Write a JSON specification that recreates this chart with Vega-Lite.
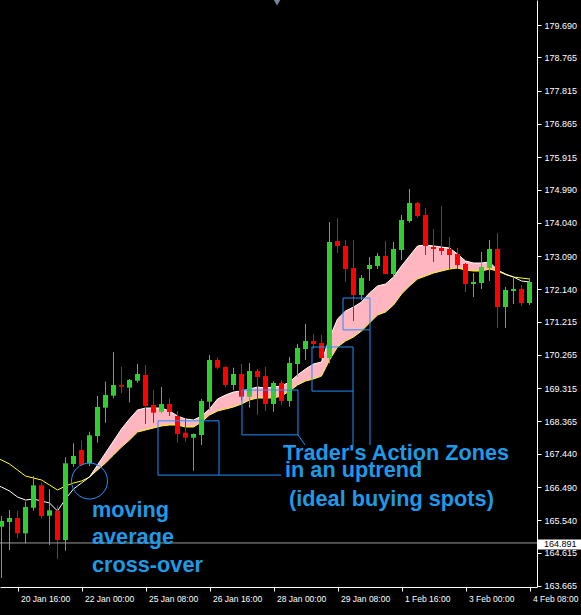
{
  "$schema": "https://vega.github.io/schema/vega-lite/v6.json",
  "width": 537,
  "height": 587,
  "autosize": {"type": "none"},
  "padding": {"left": 0, "top": 0, "right": 44, "bottom": 28},
  "background": "#000000",
  "config": {
    "view": {"stroke": null},
    "scale": {"continuousPadding": 0},
    "axis": {
      "grid": false,
      "title": null,
      "domainColor": "#ffffff",
      "tickColor": "#ffffff",
      "labelColor": "#ffffff",
      "labelFont": "Liberation Sans",
      "labelFontSize": 9,
      "tickSize": 4,
      "labelOverlap": false,
      "labelFlush": false,
      "labelBound": false
    }
  },
  "datasets": {
    "candles": [
      {"k": 0, "open": 165.356, "high": 165.661, "low": 163.890, "close": 165.519},
      {"k": 1, "open": 165.490, "high": 165.833, "low": 164.690, "close": 165.604},
      {"k": 2, "open": 165.604, "high": 165.813, "low": 165.024, "close": 165.167},
      {"k": 3, "open": 165.167, "high": 166.070, "low": 164.881, "close": 165.918},
      {"k": 4, "open": 165.898, "high": 166.804, "low": 165.813, "close": 166.538},
      {"k": 5, "open": 166.538, "high": 166.613, "low": 165.596, "close": 165.661},
      {"k": 6, "open": 165.670, "high": 166.424, "low": 164.833, "close": 165.824},
      {"k": 7, "open": 165.813, "high": 165.956, "low": 164.433, "close": 164.976},
      {"k": 8, "open": 164.976, "high": 167.338, "low": 164.670, "close": 167.167},
      {"k": 9, "open": 167.147, "high": 167.738, "low": 167.070, "close": 167.376},
      {"k": 10, "open": 167.547, "high": 167.813, "low": 167.090, "close": 167.118},
      {"k": 11, "open": 167.167, "high": 168.070, "low": 167.090, "close": 167.967},
      {"k": 12, "open": 167.947, "high": 169.090, "low": 167.756, "close": 168.776},
      {"k": 13, "open": 168.756, "high": 169.499, "low": 168.327, "close": 169.119},
      {"k": 14, "open": 169.099, "high": 170.347, "low": 169.024, "close": 169.404},
      {"k": 15, "open": 169.404, "high": 169.927, "low": 169.167, "close": 169.356},
      {"k": 16, "open": 169.327, "high": 169.576, "low": 168.910, "close": 169.547},
      {"k": 17, "open": 169.527, "high": 170.004, "low": 169.470, "close": 169.719},
      {"k": 18, "open": 169.690, "high": 169.976, "low": 168.290, "close": 168.804},
      {"k": 19, "open": 168.833, "high": 169.261, "low": 168.327, "close": 168.613},
      {"k": 20, "open": 168.641, "high": 169.347, "low": 168.596, "close": 168.861},
      {"k": 21, "open": 168.861, "high": 169.024, "low": 168.519, "close": 168.633},
      {"k": 22, "open": 168.519, "high": 168.661, "low": 167.756, "close": 168.004},
      {"k": 23, "open": 168.041, "high": 168.453, "low": 167.784, "close": 167.899},
      {"k": 24, "open": 167.899, "high": 168.020, "low": 166.956, "close": 168.004},
      {"k": 25, "open": 167.976, "high": 169.004, "low": 167.690, "close": 168.947},
      {"k": 26, "open": 168.927, "high": 170.261, "low": 168.690, "close": 170.118},
      {"k": 27, "open": 170.118, "high": 170.196, "low": 169.861, "close": 169.899},
      {"k": 28, "open": 169.919, "high": 169.947, "low": 169.338, "close": 169.404},
      {"k": 29, "open": 169.404, "high": 169.899, "low": 169.261, "close": 169.719},
      {"k": 30, "open": 169.719, "high": 170.004, "low": 168.956, "close": 169.070},
      {"k": 31, "open": 169.070, "high": 170.033, "low": 168.756, "close": 169.804},
      {"k": 32, "open": 169.804, "high": 169.861, "low": 168.547, "close": 169.633},
      {"k": 33, "open": 169.661, "high": 169.919, "low": 168.661, "close": 168.861},
      {"k": 34, "open": 168.861, "high": 169.510, "low": 168.641, "close": 169.461},
      {"k": 35, "open": 169.461, "high": 169.547, "low": 168.833, "close": 168.947},
      {"k": 36, "open": 168.947, "high": 170.204, "low": 168.784, "close": 170.033},
      {"k": 37, "open": 170.004, "high": 170.576, "low": 169.641, "close": 170.461},
      {"k": 38, "open": 170.433, "high": 171.147, "low": 170.118, "close": 170.661},
      {"k": 39, "open": 170.661, "high": 170.861, "low": 170.433, "close": 170.576},
      {"k": 40, "open": 170.604, "high": 170.833, "low": 170.118, "close": 170.176},
      {"k": 41, "open": 170.176, "high": 174.061, "low": 170.024, "close": 173.490},
      {"k": 42, "open": 173.519, "high": 174.176, "low": 173.176, "close": 173.376},
      {"k": 43, "open": 173.376, "high": 173.547, "low": 172.347, "close": 172.718},
      {"k": 44, "open": 172.747, "high": 173.547, "low": 171.233, "close": 171.976},
      {"k": 45, "open": 171.976, "high": 172.547, "low": 171.833, "close": 172.461},
      {"k": 46, "open": 172.718, "high": 173.061, "low": 172.376, "close": 172.833},
      {"k": 47, "open": 172.804, "high": 173.176, "low": 172.718, "close": 173.090},
      {"k": 48, "open": 173.090, "high": 173.519, "low": 172.570, "close": 172.576},
      {"k": 49, "open": 172.576, "high": 173.490, "low": 172.490, "close": 173.290},
      {"k": 50, "open": 173.261, "high": 174.261, "low": 172.976, "close": 174.119},
      {"k": 51, "open": 174.090, "high": 175.004, "low": 174.041, "close": 174.604},
      {"k": 52, "open": 174.604, "high": 174.641, "low": 174.176, "close": 174.233},
      {"k": 53, "open": 174.261, "high": 174.461, "low": 173.119, "close": 173.376},
      {"k": 54, "open": 173.347, "high": 173.861, "low": 172.918, "close": 173.290},
      {"k": 55, "open": 173.319, "high": 174.519, "low": 173.119, "close": 173.233},
      {"k": 56, "open": 173.290, "high": 173.633, "low": 172.718, "close": 173.119},
      {"k": 57, "open": 173.147, "high": 173.319, "low": 172.718, "close": 172.833},
      {"k": 58, "open": 172.861, "high": 172.890, "low": 172.061, "close": 172.290},
      {"k": 59, "open": 172.290, "high": 172.604, "low": 171.918, "close": 172.347},
      {"k": 60, "open": 172.318, "high": 173.204, "low": 172.147, "close": 172.776},
      {"k": 61, "open": 172.747, "high": 173.547, "low": 172.376, "close": 173.290},
      {"k": 62, "open": 173.290, "high": 173.747, "low": 171.033, "close": 171.633},
      {"k": 63, "open": 171.633, "high": 172.204, "low": 171.033, "close": 172.118},
      {"k": 64, "open": 172.090, "high": 172.490, "low": 171.718, "close": 172.147},
      {"k": 65, "open": 172.147, "high": 172.261, "low": 171.661, "close": 171.747},
      {"k": 66, "open": 171.747, "high": 172.461, "low": 171.690, "close": 172.347}
    ],
    "ma": [
      {"k": -1, "fast": 166.576, "slow": 167.347},
      {"k": 0, "fast": 166.490, "slow": 167.261},
      {"k": 1, "fast": 166.376, "slow": 167.147},
      {"k": 2, "fast": 166.204, "slow": 166.976},
      {"k": 3, "fast": 166.118, "slow": 166.804},
      {"k": 4, "fast": 166.147, "slow": 166.747},
      {"k": 5, "fast": 166.090, "slow": 166.690},
      {"k": 6, "fast": 166.033, "slow": 166.547},
      {"k": 7, "fast": 165.804, "slow": 166.404},
      {"k": 8, "fast": 166.147, "slow": 166.518},
      {"k": 9, "fast": 166.433, "slow": 166.604},
      {"k": 10, "fast": 166.604, "slow": 166.661},
      {"k": 11, "fast": 166.776, "slow": 166.776},
      {"k": 12, "fast": 167.118, "slow": 166.976},
      {"k": 13, "fast": 167.461, "slow": 167.176},
      {"k": 14, "fast": 167.804, "slow": 167.404},
      {"k": 15, "fast": 168.147, "slow": 167.633},
      {"k": 16, "fast": 168.433, "slow": 167.833},
      {"k": 17, "fast": 168.690, "slow": 168.061},
      {"k": 18, "fast": 168.747, "slow": 168.118},
      {"k": 19, "fast": 168.747, "slow": 168.176},
      {"k": 20, "fast": 168.747, "slow": 168.233},
      {"k": 21, "fast": 168.661, "slow": 168.261},
      {"k": 22, "fast": 168.518, "slow": 168.261},
      {"k": 23, "fast": 168.433, "slow": 168.204},
      {"k": 24, "fast": 168.404, "slow": 168.204},
      {"k": 25, "fast": 168.518, "slow": 168.347},
      {"k": 26, "fast": 168.718, "slow": 168.547},
      {"k": 27, "fast": 169.004, "slow": 168.661},
      {"k": 28, "fast": 169.118, "slow": 168.718},
      {"k": 29, "fast": 169.204, "slow": 168.776},
      {"k": 30, "fast": 169.233, "slow": 168.861},
      {"k": 31, "fast": 169.290, "slow": 168.976},
      {"k": 32, "fast": 169.347, "slow": 169.033},
      {"k": 33, "fast": 169.318, "slow": 169.033},
      {"k": 34, "fast": 169.347, "slow": 169.033},
      {"k": 35, "fast": 169.376, "slow": 169.090},
      {"k": 36, "fast": 169.490, "slow": 169.233},
      {"k": 37, "fast": 169.690, "slow": 169.404},
      {"k": 38, "fast": 169.861, "slow": 169.518},
      {"k": 39, "fast": 170.004, "slow": 169.576},
      {"k": 40, "fast": 170.061, "slow": 169.661},
      {"k": 41, "fast": 170.747, "slow": 170.118},
      {"k": 42, "fast": 171.290, "slow": 170.490},
      {"k": 43, "fast": 171.518, "slow": 170.661},
      {"k": 44, "fast": 171.633, "slow": 170.776},
      {"k": 45, "fast": 171.776, "slow": 170.947},
      {"k": 46, "fast": 172.033, "slow": 171.175},
      {"k": 47, "fast": 172.233, "slow": 171.404},
      {"k": 48, "fast": 172.290, "slow": 171.490},
      {"k": 49, "fast": 172.490, "slow": 171.690},
      {"k": 50, "fast": 172.804, "slow": 172.004},
      {"k": 51, "fast": 173.090, "slow": 172.233},
      {"k": 52, "fast": 173.376, "slow": 172.433},
      {"k": 53, "fast": 173.404, "slow": 172.518},
      {"k": 54, "fast": 173.376, "slow": 172.604},
      {"k": 55, "fast": 173.347, "slow": 172.661},
      {"k": 56, "fast": 173.318, "slow": 172.718},
      {"k": 57, "fast": 173.147, "slow": 172.747},
      {"k": 58, "fast": 172.947, "slow": 172.690},
      {"k": 59, "fast": 172.890, "slow": 172.661},
      {"k": 60, "fast": 172.890, "slow": 172.661},
      {"k": 61, "fast": 172.918, "slow": 172.718},
      {"k": 62, "fast": 172.690, "slow": 172.661},
      {"k": 63, "fast": 172.576, "slow": 172.561},
      {"k": 64, "fast": 172.490, "slow": 172.490},
      {"k": 65, "fast": 172.376, "slow": 172.461},
      {"k": 66, "fast": 172.347, "slow": 172.433}
    ],
    "zones": [
      {"k1": 19.56, "k2": 27.19, "p1": 168.38, "p2": 166.83},
      {"k1": 30.06, "k2": 37.06, "p1": 169.26, "p2": 167.98},
      {"k1": 38.81, "k2": 43.94, "p1": 170.49, "p2": 169.23},
      {"k1": 42.69, "k2": 46.06, "p1": 171.89, "p2": 170.98}
    ],
    "leaders": [
      {"k1": 27.19, "k2": 34.94, "p1": 166.83, "p2": 166.83},
      {"k1": 37.06, "k2": 37.94, "p1": 167.98, "p2": 167.69},
      {"k1": 43.94, "k2": 43.94, "p1": 169.23, "p2": 167.69},
      {"k1": 46.06, "k2": 46.06, "p1": 170.98, "p2": 167.69}
    ],
    "ring": [{"k": 11.0, "price": 166.661}],
    "notes": [
      {"k": 11.31, "price": 165.624, "text": "moving"},
      {"k": 11.31, "price": 164.861, "text": "average"},
      {"k": 11.31, "price": 164.070, "text": "cross-over"},
      {"k": 35.19, "price": 167.261, "text": "Trader's Action Zones"},
      {"k": 35.44, "price": 166.784, "text": "in an uptrend"},
      {"k": 35.94, "price": 165.947, "text": "(ideal buying spots)"}
    ],
    "bid": [{"k1": 67.05, "k2": 72.6, "klabel": 67.81, "price": 164.891}],
    "shift": [{"k": 34.44, "price": 180.33}]
  },
  "layer": [
    {
      "data": {"name": "ma"},
      "transform": [{"filter": "datum.k >= 11 && datum.k <= 64"}],
      "mark": {"type": "area", "color": "#FFB6C1", "opacity": 1},
      "encoding": {
        "x": {"field": "k", "type": "quantitative", "scale": {"domain": [-0.1875, 66.9375], "nice": false, "zero": false, "padding": 0},
          "axis": {"values": [-6, 2, 10, 18, 26, 34, 42, 50, 58, 66], "labelAlign": "left", "labelOffset": 3, "labelPadding": 3, "labelFontSize": 8.5, "labelOverlap": false,
            "labelExpr": "['19 Jan 08:00','20 Jan 16:00','22 Jan 00:00','25 Jan 08:00','26 Jan 16:00','28 Jan 00:00','29 Jan 08:00','1 Feb 16:00','3 Feb 00:00','4 Feb 08:00'][(datum.value + 6) / 8]"}},
        "y": {"field": "fast", "type": "quantitative", "scale": {"domain": [163.6329, 180.4043], "nice": false, "zero": false, "padding": 0},
          "axis": {"orient": "right", "labelPadding": 3, "labelBaseline": "middle", "labelOverlap": false,
            "values": [179.690, 178.765, 177.815, 176.865, 175.915, 174.990, 174.040, 173.090, 172.140, 171.215, 170.265, 169.315, 168.365, 167.440, 166.490, 165.540, 164.615, 163.665],
            "labelExpr": "format(datum.value, '.3f')"}},
        "y2": {"field": "slow"}
      }
    },
    {
      "data": {"name": "ma"},
      "mark": {"type": "line", "color": "#FFFF00", "strokeWidth": 1, "clip": true},
      "encoding": {
        "x": {"field": "k", "type": "quantitative", "scale": {"domain": [-0.1875, 66.9375], "nice": false, "zero": false, "padding": 0},
          "axis": {"values": [-6, 2, 10, 18, 26, 34, 42, 50, 58, 66], "labelAlign": "left", "labelOffset": 3, "labelPadding": 3, "labelFontSize": 8.5, "labelOverlap": false,
            "labelExpr": "['19 Jan 08:00','20 Jan 16:00','22 Jan 00:00','25 Jan 08:00','26 Jan 16:00','28 Jan 00:00','29 Jan 08:00','1 Feb 16:00','3 Feb 00:00','4 Feb 08:00'][(datum.value + 6) / 8]"}},
        "y": {"field": "slow", "type": "quantitative", "scale": {"domain": [163.6329, 180.4043], "nice": false, "zero": false, "padding": 0},
          "axis": {"orient": "right", "labelPadding": 3, "labelBaseline": "middle", "labelOverlap": false,
            "values": [179.690, 178.765, 177.815, 176.865, 175.915, 174.990, 174.040, 173.090, 172.140, 171.215, 170.265, 169.315, 168.365, 167.440, 166.490, 165.540, 164.615, 163.665],
            "labelExpr": "format(datum.value, '.3f')"}}
      }
    },
    {
      "data": {"name": "ma"},
      "mark": {"type": "line", "color": "#FFFFFF", "strokeWidth": 1, "clip": true},
      "encoding": {
        "x": {"field": "k", "type": "quantitative", "scale": {"domain": [-0.1875, 66.9375], "nice": false, "zero": false, "padding": 0},
          "axis": {"values": [-6, 2, 10, 18, 26, 34, 42, 50, 58, 66], "labelAlign": "left", "labelOffset": 3, "labelPadding": 3, "labelFontSize": 8.5, "labelOverlap": false,
            "labelExpr": "['19 Jan 08:00','20 Jan 16:00','22 Jan 00:00','25 Jan 08:00','26 Jan 16:00','28 Jan 00:00','29 Jan 08:00','1 Feb 16:00','3 Feb 00:00','4 Feb 08:00'][(datum.value + 6) / 8]"}},
        "y": {"field": "fast", "type": "quantitative", "scale": {"domain": [163.6329, 180.4043], "nice": false, "zero": false, "padding": 0},
          "axis": {"orient": "right", "labelPadding": 3, "labelBaseline": "middle", "labelOverlap": false,
            "values": [179.690, 178.765, 177.815, 176.865, 175.915, 174.990, 174.040, 173.090, 172.140, 171.215, 170.265, 169.315, 168.365, 167.440, 166.490, 165.540, 164.615, 163.665],
            "labelExpr": "format(datum.value, '.3f')"}}
      }
    },
    {
      "data": {"name": "candles"},
      "mark": {"type": "rule", "strokeWidth": 1},
      "encoding": {
        "x": {"field": "k", "type": "quantitative", "scale": {"domain": [-0.1875, 66.9375], "nice": false, "zero": false, "padding": 0},
          "axis": {"values": [-6, 2, 10, 18, 26, 34, 42, 50, 58, 66], "labelAlign": "left", "labelOffset": 3, "labelPadding": 3, "labelFontSize": 8.5, "labelOverlap": false,
            "labelExpr": "['19 Jan 08:00','20 Jan 16:00','22 Jan 00:00','25 Jan 08:00','26 Jan 16:00','28 Jan 00:00','29 Jan 08:00','1 Feb 16:00','3 Feb 00:00','4 Feb 08:00'][(datum.value + 6) / 8]"}},
        "y": {"field": "low", "type": "quantitative", "scale": {"domain": [163.6329, 180.4043], "nice": false, "zero": false, "padding": 0},
          "axis": {"orient": "right", "labelPadding": 3, "labelBaseline": "middle", "labelOverlap": false,
            "values": [179.690, 178.765, 177.815, 176.865, 175.915, 174.990, 174.040, 173.090, 172.140, 171.215, 170.265, 169.315, 168.365, 167.440, 166.490, 165.540, 164.615, 163.665],
            "labelExpr": "format(datum.value, '.3f')"}},
        "y2": {"field": "high"},
        "color": {"condition": {"test": "datum.close >= datum.open", "value": "#32CD32"}, "value": "#FF0000"}
      }
    },
    {
      "data": {"name": "candles"},
      "mark": {"type": "bar", "size": 5, "orient": "vertical"},
      "encoding": {
        "x": {"field": "k", "type": "quantitative", "scale": {"domain": [-0.1875, 66.9375], "nice": false, "zero": false, "padding": 0},
          "axis": {"values": [-6, 2, 10, 18, 26, 34, 42, 50, 58, 66], "labelAlign": "left", "labelOffset": 3, "labelPadding": 3, "labelFontSize": 8.5, "labelOverlap": false,
            "labelExpr": "['19 Jan 08:00','20 Jan 16:00','22 Jan 00:00','25 Jan 08:00','26 Jan 16:00','28 Jan 00:00','29 Jan 08:00','1 Feb 16:00','3 Feb 00:00','4 Feb 08:00'][(datum.value + 6) / 8]"}},
        "y": {"field": "open", "type": "quantitative", "scale": {"domain": [163.6329, 180.4043], "nice": false, "zero": false, "padding": 0},
          "axis": {"orient": "right", "labelPadding": 3, "labelBaseline": "middle", "labelOverlap": false,
            "values": [179.690, 178.765, 177.815, 176.865, 175.915, 174.990, 174.040, 173.090, 172.140, 171.215, 170.265, 169.315, 168.365, 167.440, 166.490, 165.540, 164.615, 163.665],
            "labelExpr": "format(datum.value, '.3f')"}},
        "y2": {"field": "close"},
        "color": {"condition": {"test": "datum.close >= datum.open", "value": "#32CD32"}, "value": "#FF0000"}
      }
    },
    {
      "data": {"name": "bid"},
      "mark": {"type": "rule", "color": "#9a9a9a", "strokeWidth": 1},
      "encoding": {
        "y": {"field": "price", "type": "quantitative", "scale": {"domain": [163.6329, 180.4043], "nice": false, "zero": false, "padding": 0},
          "axis": {"orient": "right", "labelPadding": 3, "labelBaseline": "middle", "labelOverlap": false,
            "values": [179.690, 178.765, 177.815, 176.865, 175.915, 174.990, 174.040, 173.090, 172.140, 171.215, 170.265, 169.315, 168.365, 167.440, 166.490, 165.540, 164.615, 163.665],
            "labelExpr": "format(datum.value, '.3f')"}}
      }
    },
    {
      "data": {"name": "zones"},
      "mark": {"type": "rect", "fill": null, "fillOpacity": 0, "stroke": "#1E90FF", "strokeWidth": 1},
      "encoding": {
        "x": {"field": "k1", "type": "quantitative", "scale": {"domain": [-0.1875, 66.9375], "nice": false, "zero": false, "padding": 0},
          "axis": {"values": [-6, 2, 10, 18, 26, 34, 42, 50, 58, 66], "labelAlign": "left", "labelOffset": 3, "labelPadding": 3, "labelFontSize": 8.5, "labelOverlap": false,
            "labelExpr": "['19 Jan 08:00','20 Jan 16:00','22 Jan 00:00','25 Jan 08:00','26 Jan 16:00','28 Jan 00:00','29 Jan 08:00','1 Feb 16:00','3 Feb 00:00','4 Feb 08:00'][(datum.value + 6) / 8]"}},
        "x2": {"field": "k2"},
        "y": {"field": "p1", "type": "quantitative", "scale": {"domain": [163.6329, 180.4043], "nice": false, "zero": false, "padding": 0},
          "axis": {"orient": "right", "labelPadding": 3, "labelBaseline": "middle", "labelOverlap": false,
            "values": [179.690, 178.765, 177.815, 176.865, 175.915, 174.990, 174.040, 173.090, 172.140, 171.215, 170.265, 169.315, 168.365, 167.440, 166.490, 165.540, 164.615, 163.665],
            "labelExpr": "format(datum.value, '.3f')"}},
        "y2": {"field": "p2"}
      }
    },
    {
      "data": {"name": "leaders"},
      "mark": {"type": "rule", "color": "#1E90FF", "strokeWidth": 1},
      "encoding": {
        "x": {"field": "k1", "type": "quantitative", "scale": {"domain": [-0.1875, 66.9375], "nice": false, "zero": false, "padding": 0},
          "axis": {"values": [-6, 2, 10, 18, 26, 34, 42, 50, 58, 66], "labelAlign": "left", "labelOffset": 3, "labelPadding": 3, "labelFontSize": 8.5, "labelOverlap": false,
            "labelExpr": "['19 Jan 08:00','20 Jan 16:00','22 Jan 00:00','25 Jan 08:00','26 Jan 16:00','28 Jan 00:00','29 Jan 08:00','1 Feb 16:00','3 Feb 00:00','4 Feb 08:00'][(datum.value + 6) / 8]"}},
        "x2": {"field": "k2"},
        "y": {"field": "p1", "type": "quantitative", "scale": {"domain": [163.6329, 180.4043], "nice": false, "zero": false, "padding": 0},
          "axis": {"orient": "right", "labelPadding": 3, "labelBaseline": "middle", "labelOverlap": false,
            "values": [179.690, 178.765, 177.815, 176.865, 175.915, 174.990, 174.040, 173.090, 172.140, 171.215, 170.265, 169.315, 168.365, 167.440, 166.490, 165.540, 164.615, 163.665],
            "labelExpr": "format(datum.value, '.3f')"}},
        "y2": {"field": "p2"}
      }
    },
    {
      "data": {"name": "ring"},
      "mark": {"type": "point", "shape": "circle", "size": 1296, "filled": false, "stroke": "#1E90FF", "strokeWidth": 1, "opacity": 1},
      "encoding": {
        "x": {"field": "k", "type": "quantitative", "scale": {"domain": [-0.1875, 66.9375], "nice": false, "zero": false, "padding": 0},
          "axis": {"values": [-6, 2, 10, 18, 26, 34, 42, 50, 58, 66], "labelAlign": "left", "labelOffset": 3, "labelPadding": 3, "labelFontSize": 8.5, "labelOverlap": false,
            "labelExpr": "['19 Jan 08:00','20 Jan 16:00','22 Jan 00:00','25 Jan 08:00','26 Jan 16:00','28 Jan 00:00','29 Jan 08:00','1 Feb 16:00','3 Feb 00:00','4 Feb 08:00'][(datum.value + 6) / 8]"}},
        "y": {"field": "price", "type": "quantitative", "scale": {"domain": [163.6329, 180.4043], "nice": false, "zero": false, "padding": 0},
          "axis": {"orient": "right", "labelPadding": 3, "labelBaseline": "middle", "labelOverlap": false,
            "values": [179.690, 178.765, 177.815, 176.865, 175.915, 174.990, 174.040, 173.090, 172.140, 171.215, 170.265, 169.315, 168.365, 167.440, 166.490, 165.540, 164.615, 163.665],
            "labelExpr": "format(datum.value, '.3f')"}}
      }
    },
    {
      "data": {"name": "notes"},
      "mark": {"type": "text", "align": "left", "baseline": "alphabetic", "font": "Liberation Sans", "fontWeight": "bold", "fontSize": 21.7, "color": "#1E9AE8"},
      "encoding": {
        "x": {"field": "k", "type": "quantitative", "scale": {"domain": [-0.1875, 66.9375], "nice": false, "zero": false, "padding": 0},
          "axis": {"values": [-6, 2, 10, 18, 26, 34, 42, 50, 58, 66], "labelAlign": "left", "labelOffset": 3, "labelPadding": 3, "labelFontSize": 8.5, "labelOverlap": false,
            "labelExpr": "['19 Jan 08:00','20 Jan 16:00','22 Jan 00:00','25 Jan 08:00','26 Jan 16:00','28 Jan 00:00','29 Jan 08:00','1 Feb 16:00','3 Feb 00:00','4 Feb 08:00'][(datum.value + 6) / 8]"}},
        "y": {"field": "price", "type": "quantitative", "scale": {"domain": [163.6329, 180.4043], "nice": false, "zero": false, "padding": 0},
          "axis": {"orient": "right", "labelPadding": 3, "labelBaseline": "middle", "labelOverlap": false,
            "values": [179.690, 178.765, 177.815, 176.865, 175.915, 174.990, 174.040, 173.090, 172.140, 171.215, 170.265, 169.315, 168.365, 167.440, 166.490, 165.540, 164.615, 163.665],
            "labelExpr": "format(datum.value, '.3f')"}},
        "text": {"field": "text"}
      }
    },
    {
      "data": {"name": "bid"},
      "mark": {"type": "bar", "orient": "horizontal", "size": 10, "color": "#FFFFFF", "yOffset": 1.5},
      "encoding": {
        "x": {"field": "k1", "type": "quantitative", "scale": {"domain": [-0.1875, 66.9375], "nice": false, "zero": false, "padding": 0},
          "axis": {"values": [-6, 2, 10, 18, 26, 34, 42, 50, 58, 66], "labelAlign": "left", "labelOffset": 3, "labelPadding": 3, "labelFontSize": 8.5, "labelOverlap": false,
            "labelExpr": "['19 Jan 08:00','20 Jan 16:00','22 Jan 00:00','25 Jan 08:00','26 Jan 16:00','28 Jan 00:00','29 Jan 08:00','1 Feb 16:00','3 Feb 00:00','4 Feb 08:00'][(datum.value + 6) / 8]"}},
        "x2": {"field": "k2"},
        "y": {"field": "price", "type": "quantitative", "scale": {"domain": [163.6329, 180.4043], "nice": false, "zero": false, "padding": 0},
          "axis": {"orient": "right", "labelPadding": 3, "labelBaseline": "middle", "labelOverlap": false,
            "values": [179.690, 178.765, 177.815, 176.865, 175.915, 174.990, 174.040, 173.090, 172.140, 171.215, 170.265, 169.315, 168.365, 167.440, 166.490, 165.540, 164.615, 163.665],
            "labelExpr": "format(datum.value, '.3f')"}}
      }
    },
    {
      "data": {"name": "bid"},
      "mark": {"type": "text", "align": "left", "baseline": "middle", "font": "Liberation Sans", "fontSize": 9, "color": "#000000", "yOffset": 1.5},
      "encoding": {
        "x": {"field": "klabel", "type": "quantitative", "scale": {"domain": [-0.1875, 66.9375], "nice": false, "zero": false, "padding": 0},
          "axis": {"values": [-6, 2, 10, 18, 26, 34, 42, 50, 58, 66], "labelAlign": "left", "labelOffset": 3, "labelPadding": 3, "labelFontSize": 8.5, "labelOverlap": false,
            "labelExpr": "['19 Jan 08:00','20 Jan 16:00','22 Jan 00:00','25 Jan 08:00','26 Jan 16:00','28 Jan 00:00','29 Jan 08:00','1 Feb 16:00','3 Feb 00:00','4 Feb 08:00'][(datum.value + 6) / 8]"}},
        "y": {"field": "price", "type": "quantitative", "scale": {"domain": [163.6329, 180.4043], "nice": false, "zero": false, "padding": 0},
          "axis": {"orient": "right", "labelPadding": 3, "labelBaseline": "middle", "labelOverlap": false,
            "values": [179.690, 178.765, 177.815, 176.865, 175.915, 174.990, 174.040, 173.090, 172.140, 171.215, 170.265, 169.315, 168.365, 167.440, 166.490, 165.540, 164.615, 163.665],
            "labelExpr": "format(datum.value, '.3f')"}},
        "text": {"field": "price", "format": ".3f"}
      }
    },
    {
      "data": {"name": "shift"},
      "mark": {"type": "point", "shape": "triangle-down", "size": 45, "filled": true, "color": "#778899", "opacity": 1},
      "encoding": {
        "x": {"field": "k", "type": "quantitative", "scale": {"domain": [-0.1875, 66.9375], "nice": false, "zero": false, "padding": 0},
          "axis": {"values": [-6, 2, 10, 18, 26, 34, 42, 50, 58, 66], "labelAlign": "left", "labelOffset": 3, "labelPadding": 3, "labelFontSize": 8.5, "labelOverlap": false,
            "labelExpr": "['19 Jan 08:00','20 Jan 16:00','22 Jan 00:00','25 Jan 08:00','26 Jan 16:00','28 Jan 00:00','29 Jan 08:00','1 Feb 16:00','3 Feb 00:00','4 Feb 08:00'][(datum.value + 6) / 8]"}},
        "y": {"field": "price", "type": "quantitative", "scale": {"domain": [163.6329, 180.4043], "nice": false, "zero": false, "padding": 0},
          "axis": {"orient": "right", "labelPadding": 3, "labelBaseline": "middle", "labelOverlap": false,
            "values": [179.690, 178.765, 177.815, 176.865, 175.915, 174.990, 174.040, 173.090, 172.140, 171.215, 170.265, 169.315, 168.365, 167.440, 166.490, 165.540, 164.615, 163.665],
            "labelExpr": "format(datum.value, '.3f')"}}
      }
    }
  ]
}
